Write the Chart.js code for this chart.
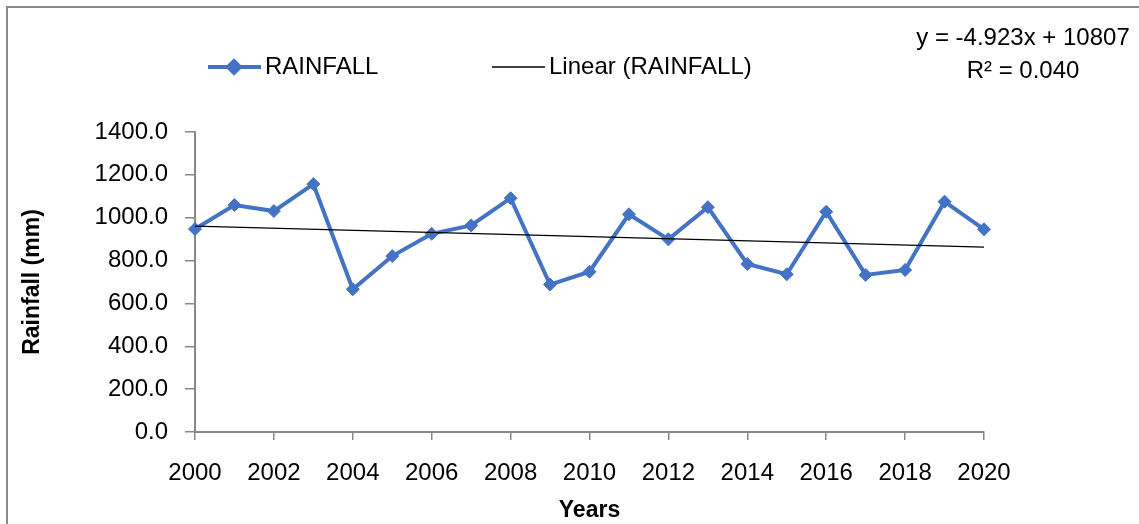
<!DOCTYPE html>
<html>
<head>
<meta charset="utf-8">
<title>Rainfall</title>
<script src="https://cdn.jsdelivr.net/npm/chart.js@4.4.1/dist/chart.umd.min.js"></script>
<style>
  html, body { margin: 0; padding: 0; background: #fff; overflow: hidden; }
  #wrap { position: relative; width: 1139px; height: 524px; }
  #frame {
    position: absolute; left: 6px; top: 6px; width: 1200px; height: 600px;
    border-left: 2px solid #8a8a8a; border-top: 2px solid #8a8a8a;
  }
  #rainChart { position: absolute; left: 0; top: 0; }
</style>
</head>
<body>
<div id="wrap">
  <div id="frame"></div>
  <canvas id="rainChart" width="1139" height="524"></canvas>
</div>
<script>
// data
const years = [2000, 2001, 2002, 2003, 2004, 2005, 2006, 2007, 2008, 2009, 2010,
               2011, 2012, 2013, 2014, 2015, 2016, 2017, 2018, 2019, 2020];
const rainfall = [947, 1059, 1031, 1157, 666, 821, 925, 964, 1091, 688, 748,
                  1016, 899, 1049, 784, 736, 1028, 733, 756, 1075, 946];

// trend line as printed on the chart
const trendSlope = -4.923;
const trendIntercept = 10807;
const trendLabel = 'y = -4.923x + 10807';
const r2Label = 'R² = 0.040';

const seriesName = 'RAINFALL';
const trendName = 'Linear (RAINFALL)';
const yTitle = 'Rainfall (mm)';
const xTitle = 'Years';

const FONT = '"Liberation Sans", Arial, sans-serif';
const BLUE = '#4472C4';
const AXIS_GREY = '#888888';

const rainPoints = years.map((yr, i) => ({ x: yr, y: rainfall[i] }));
const trendYears = [years[0], years[years.length - 1]];
const trendPoints = trendYears.map(yr => ({ x: yr, y: trendSlope * yr + trendIntercept }));

// legend + equation drawn like the Excel original
const excelLegend = {
    id: 'excelLegend',
    afterDraw(chart) {
        const ctx = chart.ctx;
        ctx.save();
        ctx.font = '24px ' + FONT;
        ctx.fillStyle = '#000';
        ctx.textBaseline = 'middle';

        const ly = 67;
        // RAINFALL item
        ctx.strokeStyle = BLUE;
        ctx.lineWidth = 4;
        ctx.beginPath();
        ctx.moveTo(208, ly);
        ctx.lineTo(261, ly);
        ctx.stroke();
        ctx.fillStyle = BLUE;
        Chart.helpers.drawPoint(ctx, { pointStyle: 'rectRot', radius: 6, borderWidth: 1 }, 234, ly);
        ctx.fill();
        ctx.fillStyle = '#000';
        ctx.textAlign = 'left';
        ctx.fillText(seriesName, 265, ly);

        // Linear item
        ctx.strokeStyle = '#000';
        ctx.lineWidth = 1.3;
        ctx.beginPath();
        ctx.moveTo(492, ly);
        ctx.lineTo(545, ly);
        ctx.stroke();
        ctx.fillText(trendName, 549, ly);

        // equation
        ctx.textAlign = 'center';
        ctx.fillText(trendLabel, 1023, 38);
        ctx.fillText(r2Label, 1023, 71);
        ctx.restore();
    }
};

new Chart(document.getElementById('rainChart'), {
    type: 'scatter',
    data: {
        datasets: [{
            label: seriesName,
            data: rainPoints,
            showLine: true,
            borderColor: BLUE,
            backgroundColor: BLUE,
            borderWidth: 4,
            pointStyle: 'rectRot',
            pointRadius: 6.5,
            pointHoverRadius: 6.5,
            pointBorderWidth: 1,
            pointBackgroundColor: BLUE,
            pointBorderColor: BLUE,
            clip: false,
            order: 1
        }, {
            label: trendName,
            data: trendPoints,
            showLine: true,
            borderColor: '#000',
            borderWidth: 1.3,
            pointRadius: 0,
            pointHoverRadius: 0,
            clip: false,
            order: 0
        }]
    },
    options: {
        responsive: false,
        animation: false,
        devicePixelRatio: 1,
        layout: { padding: { top: 132, right: 155, left: 0, bottom: 0 } },
        plugins: {
            legend: { display: false },
            tooltip: { enabled: false }
        },
        scales: {
            x: {
                type: 'linear',
                min: 2000,
                max: 2020,
                afterFit: (scale) => { scale.height = 92; },
                ticks: {
                    stepSize: 2,
                    color: '#000',
                    font: { family: FONT, size: 24 },
                    padding: 19,
                    maxRotation: 0,
                    callback: (v) => String(v)
                },
                grid: {
                    drawOnChartArea: false,
                    drawTicks: true,
                    tickLength: 8,
                    color: AXIS_GREY,
                    lineWidth: 1.5
                },
                border: { display: true, color: AXIS_GREY, width: 2 },
                title: {
                    display: true,
                    text: xTitle,
                    color: '#000',
                    font: { family: FONT, size: 23, weight: 'bold', lineHeight: 1 },
                    padding: { top: 0, bottom: 2 }
                }
            },
            y: {
                min: 0,
                max: 1400,
                afterFit: (scale) => { scale.width = 195; },
                ticks: {
                    stepSize: 200,
                    color: '#000',
                    font: { family: FONT, size: 24 },
                    padding: 17,
                    callback: (v) => v.toFixed(1)
                },
                grid: {
                    drawOnChartArea: false,
                    drawTicks: true,
                    tickLength: 10,
                    color: AXIS_GREY,
                    lineWidth: 1.5
                },
                border: { display: true, color: AXIS_GREY, width: 2 },
                title: {
                    display: true,
                    text: yTitle,
                    color: '#000',
                    font: { family: FONT, size: 23, weight: 'bold', lineHeight: 1 },
                    padding: { top: 21, bottom: 0 }
                }
            }
        }
    },
    plugins: [excelLegend]
});
</script>
</body>
</html>
